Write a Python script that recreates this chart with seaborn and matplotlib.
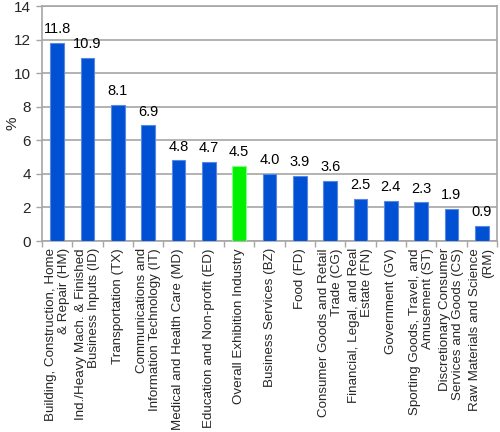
import matplotlib
matplotlib.use("Agg")
import matplotlib.pyplot as plt
import seaborn as sns
import pandas as pd

categories = [
    "Building, Construction, Home\n& Repair (HM)",
    "Ind./Heavy Mach. & Finished\nBusiness Inputs (ID)",
    "Transportation (TX)",
    "Communications and\nInformation Technology (IT)",
    "Medical and Health Care (MD)",
    "Education and Non-profit (ED)",
    "Overall Exhibition Industry",
    "Business Services (BZ)",
    "Food (FD)",
    "Consumer Goods and Retail\nTrade (CG)",
    "Financial, Legal, and Real\nEstate (FN)",
    "Government (GV)",
    "Sporting Goods, Travel, and\nAmusement (ST)",
    "Discretionary Consumer\nServices and Goods (CS)",
    "Raw Materials and Science\n(RM)",
]
values = [11.8, 10.9, 8.1, 6.9, 4.8, 4.7, 4.5, 4.0, 3.9, 3.6, 2.5, 2.4, 2.3, 1.9, 0.9]
highlight = "Overall Exhibition Industry"

sns.set_theme(style="white")
plt.rcParams["font.family"] = ["Liberation Sans", "DejaVu Sans"]

df = pd.DataFrame({"cat": categories, "val": values})
blue = "#0050D4"
green = "#00F000"
palette = {c: (green if c == highlight else blue) for c in categories}

fig = plt.figure(figsize=(5.0, 4.32), dpi=100)
ax = fig.add_axes([0.084, 0.442, 0.910, 0.544])

sns.barplot(data=df, x="cat", y="val", hue="cat", palette=palette, legend=False,
            width=0.45, ax=ax, zorder=3, saturation=1)
for p, c in zip(ax.patches, categories):
    p.set_edgecolor("#80FF80" if c == highlight else "#5A88E0")
    p.set_linewidth(0.8)

for i, v in enumerate(values):
    ax.text(i, v + 0.4, f"{v:.1f}", ha="center", va="bottom", fontsize=10.5, color="black")

ax.set_ylim(0, 14)
ax.set_xlim(-0.5, len(categories) - 0.5)
ax.set_yticks(range(0, 15, 2))
ax.yaxis.grid(True, color="#A6A6A6", linewidth=1.2, zorder=0)
ax.xaxis.grid(False)
for s in ax.spines.values():
    s.set_color("#A6A6A6")
    s.set_linewidth(1.2)

ax.set_xticks(range(len(categories)))
ax.set_xticklabels(categories, rotation=90, ha="center", va="top",
                   multialignment="right", fontsize=9.6, linespacing=1.1)
ax.tick_params(axis="x", length=0, pad=5)
# boundary ticks
ax.set_xticks([i + 0.5 for i in range(-1, len(categories))], minor=True)
ax.tick_params(axis="x", which="minor", length=4, color="#A6A6A6", width=1, direction="out", bottom=True)
ax.tick_params(axis="y", length=4, color="#A6A6A6", width=1, direction="out", left=True,
               labelsize=11, pad=4)

ax.set_xlabel("")
ax.set_ylabel("%", fontsize=11)
ax.yaxis.set_label_coords(-0.05, 0.5)

fig.savefig("out.png", dpi=100)
